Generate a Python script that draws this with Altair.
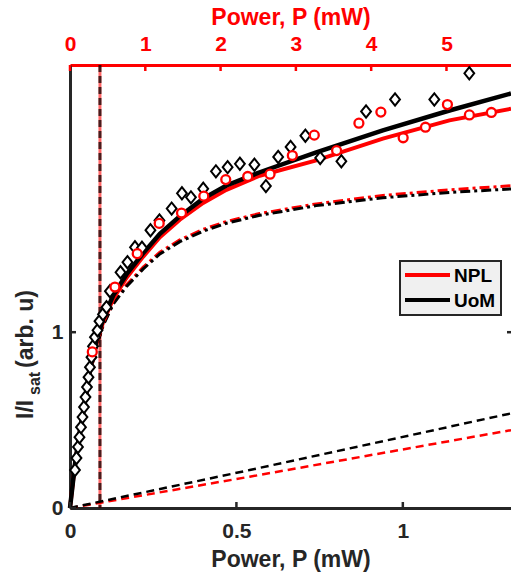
import altair as alt
import pandas as pd

# ---------------- data ----------------
# UoM measurements (black diamonds)
uom_p = [0.015, 0.0195, 0.024, 0.0285, 0.033, 0.0375, 0.042, 0.0465, 0.051, 0.0556,
         0.060, 0.0646, 0.069, 0.075, 0.0826, 0.0886, 0.099, 0.1096, 0.120, 0.1517,
         0.1727, 0.1952, 0.2162, 0.2417, 0.2688, 0.3054, 0.3363, 0.3634, 0.4003, 0.4384,
         0.4736, 0.5105, 0.5541, 0.5886, 0.6255, 0.6628, 0.7072, 0.7517, 0.8153, 0.8895,
         0.9766, 1.0946, 1.1997]
uom_v = [0.216, 0.284, 0.347, 0.403, 0.460, 0.517, 0.574, 0.631, 0.688, 0.744,
         0.801, 0.858, 0.920, 0.972, 1.011, 1.063, 1.102, 1.142, 1.233, 1.341,
         1.398, 1.483, 1.480, 1.580, 1.636, 1.703, 1.790, 1.767, 1.816, 1.915,
         1.939, 1.958, 1.953, 1.831, 1.997, 2.054, 2.118, 1.991, 1.972, 2.256,
         2.324, 2.324, 2.473]

# NPL measurements (red circles)
npl_p = [0.067, 0.135, 0.202, 0.268, 0.335, 0.402, 0.468, 0.534, 0.601, 0.668,
         0.734, 0.801, 0.868, 0.934, 1.001, 1.068, 1.134, 1.200, 1.266]
npl_v = [0.888, 1.257, 1.447, 1.619, 1.678, 1.774, 1.868, 1.886, 1.899, 2.005,
         2.121, 2.033, 2.189, 2.252, 2.106, 2.166, 2.295, 2.236, 2.250]

# fitted curves
fit_p = [0, 0.015, 0.03, 0.045, 0.06, 0.08, 0.10, 0.13, 0.17, 0.22, 0.27, 0.33,
         0.40, 0.47, 0.57, 0.74, 0.94, 1.14, 1.325]
uom_fit = [0, 0.25, 0.44, 0.61, 0.79, 0.955, 1.08, 1.21, 1.33, 1.45, 1.56, 1.66,
           1.76, 1.835, 1.91, 2.023, 2.148, 2.261, 2.358]
npl_fit = [0, 0.25, 0.44, 0.60, 0.78, 0.94, 1.06, 1.19, 1.31, 1.43, 1.54, 1.64,
           1.735, 1.81, 1.89, 1.977, 2.101, 2.205, 2.271]
uom_sat = [0, 0.24, 0.43, 0.59, 0.765, 0.92, 1.04, 1.16, 1.26, 1.36, 1.445, 1.515,
           1.575, 1.62, 1.665, 1.72, 1.765, 1.795, 1.815]
npl_sat = [0, 0.24, 0.43, 0.59, 0.765, 0.925, 1.045, 1.165, 1.27, 1.37, 1.455, 1.525,
           1.585, 1.63, 1.675, 1.73, 1.778, 1.81, 1.833]

# linear components
lin_p = [0, 0.54, 1.325]
uom_lin = [0, 0.216, 0.538]
npl_lin = [0, 0.178, 0.443]

# vertical marker
marker_p = [0.09]

# axis ticks
x_ticks = [0, 0.5, 1]
y_ticks = [0, 1]
top_ticks = [0, 1, 2, 3, 4, 5]

series_names = ["NPL", "UoM"]
series_colors = ["#ff0000", "#000000"]

# ---------------- styling ----------------
FONT = "Liberation Sans"
AX = "#262626"
RED = series_colors[0]
BLK = series_colors[1]

xs = alt.Scale(domain=[0, 1.325], nice=False, zero=False)
ys = alt.Scale(domain=[0, 2.52], nice=False, zero=False)
ts = alt.Scale(domain=[0, 5.857], nice=False, zero=False)

x_axis = alt.Axis(orient="bottom", values=x_ticks, format="~g", title="Power, P (mW)",
                  titleFont=FONT, titleFontSize=23, titleFontWeight="bold", titleColor=AX,
                  titlePadding=7, labelFont=FONT, labelFontSize=21, labelFontWeight="bold",
                  labelColor=AX, labelPadding=12, labelFlush=False, ticks=False, grid=False,
                  domainColor=AX, domainWidth=3)
y_axis = alt.Axis(values=y_ticks, format="~g", title=None, labelFont=FONT, labelFontSize=21,
                  labelFontWeight="bold", labelColor=AX, labelPadding=7, labelFlush=False,
                  ticks=False, grid=False, domainColor=AX, domainWidth=3)
top_axis = alt.Axis(orient="top", values=top_ticks, format="~g", title="Power, P (mW)",
                    titleFont=FONT, titleFontSize=23, titleFontWeight="bold", titleColor=RED,
                    titlePadding=4, labelFont=FONT, labelFontSize=21, labelFontWeight="bold",
                    labelColor=RED, labelPadding=11, labelFlush=False, ticks=False, grid=False,
                    domainColor=RED, domainWidth=3)

X = alt.X("P:Q", scale=xs, axis=x_axis)
Y = alt.Y("v:Q", scale=ys, axis=y_axis)

df_uom = pd.DataFrame({"P": uom_p, "v": uom_v})
df_npl = pd.DataFrame({"P": npl_p, "v": npl_v})
df_fit_npl = pd.DataFrame({"P": fit_p, "v": npl_fit})
df_fit_uom = pd.DataFrame({"P": fit_p, "v": uom_fit})
df_sat_npl = pd.DataFrame({"P": fit_p, "v": npl_sat})
df_sat_uom = pd.DataFrame({"P": fit_p, "v": uom_sat})
df_lin_npl = pd.DataFrame({"P": lin_p, "v": npl_lin})
df_lin_uom = pd.DataFrame({"P": lin_p, "v": uom_lin})
df_marker = pd.DataFrame({"P": marker_p})

lin_red = alt.Chart(df_lin_npl).mark_line(color=RED, strokeWidth=2.5, strokeDash=[8, 5]).encode(x=X, y=Y)
lin_blk = alt.Chart(df_lin_uom).mark_line(color=BLK, strokeWidth=2.5, strokeDash=[8, 5]).encode(x=X, y=Y)
sat_red = alt.Chart(df_sat_npl).mark_line(color=RED, strokeWidth=3, strokeDash=[10, 4, 3, 4]).encode(x=X, y=Y)
sat_blk = alt.Chart(df_sat_uom).mark_line(color=BLK, strokeWidth=3, strokeDash=[10, 4, 3, 4]).encode(x=X, y=Y)
fit_red = alt.Chart(df_fit_npl).mark_line(color=RED, strokeWidth=4).encode(x=X, y=Y)
fit_blk = alt.Chart(df_fit_uom).mark_line(color=BLK, strokeWidth=4.5).encode(x=X, y=Y)

diamond = "M-0.8,0L0,-1L0.8,0L0,1Z"
pts_uom = alt.Chart(df_uom).mark_point(shape=diamond, size=150, filled=True, fill="white",
                                       stroke=BLK, strokeWidth=2, opacity=1).encode(x=X, y=Y)
pts_npl = alt.Chart(df_npl).mark_point(shape="circle", size=80, filled=True, fill="white",
                                       stroke=RED, strokeWidth=2.3, opacity=1).encode(x=X, y=Y)

vline_red = alt.Chart(df_marker).mark_rule(color=RED, strokeWidth=3, opacity=0.6).encode(x=X)
vline_blk = alt.Chart(df_marker).mark_rule(color=BLK, strokeWidth=3, opacity=0.72,
                                           strokeDash=[7, 4]).encode(x=X)

bt = alt.Chart(pd.DataFrame({"P": x_ticks})).mark_rule(color=AX, strokeWidth=2.5).encode(
    x=X, y=alt.value(443), y2=alt.value(437))
lt = alt.Chart(pd.DataFrame({"v": y_ticks})).mark_rule(color=AX, strokeWidth=2.5).encode(
    y=Y, x=alt.value(0), x2=alt.value(6))
rt = alt.Chart(pd.DataFrame({"v": [1]})).mark_rule(color=AX, strokeWidth=2.5).encode(
    y=Y, x=alt.value(437), x2=alt.value(441))

# y axis title with subscript
t1 = alt.Chart(pd.DataFrame({"t": ["I/I"]})).mark_text(
    font=FONT, fontSize=23, fontWeight="bold", color=AX, angle=270, align="left",
    baseline="alphabetic").encode(text="t:N", x=alt.value(-37), y=alt.value(354))
t2 = alt.Chart(pd.DataFrame({"t": ["sat"]})).mark_text(
    font=FONT, fontSize=16, fontWeight="bold", color=AX, angle=270, align="left",
    baseline="alphabetic").encode(text="t:N", x=alt.value(-30), y=alt.value(330))
t3 = alt.Chart(pd.DataFrame({"t": ["(arb. u)"]})).mark_text(
    font=FONT, fontSize=23, fontWeight="bold", color=AX, angle=270, align="left",
    baseline="alphabetic").encode(text="t:N", x=alt.value(-37), y=alt.value(303))

# legend box
lg_box = alt.Chart(pd.DataFrame({"k": [0]})).mark_rect(
    fill="#f0f0f0", stroke=AX, strokeWidth=2).encode(
    x=alt.value(330), x2=alt.value(431), y=alt.value(196), y2=alt.value(250))
lg_l1 = alt.Chart(pd.DataFrame({"k": [0]})).mark_rule(color=RED, strokeWidth=4).encode(
    x=alt.value(335), x2=alt.value(380), y=alt.value(210))
lg_l2 = alt.Chart(pd.DataFrame({"k": [0]})).mark_rule(color=BLK, strokeWidth=4).encode(
    x=alt.value(335), x2=alt.value(380), y=alt.value(235))
lg_t1 = alt.Chart(pd.DataFrame({"t": [series_names[0]]})).mark_text(
    font=FONT, fontSize=19, fontWeight="bold", color=BLK, align="left", baseline="middle").encode(
    text="t:N", x=alt.value(384), y=alt.value(211))
lg_t2 = alt.Chart(pd.DataFrame({"t": [series_names[1]]})).mark_text(
    font=FONT, fontSize=19, fontWeight="bold", color=BLK, align="left", baseline="middle").encode(
    text="t:N", x=alt.value(384), y=alt.value(236))

bottom = alt.layer(vline_red, vline_blk, lin_red, lin_blk, sat_red, sat_blk,
                   fit_red, fit_blk, pts_uom, pts_npl, bt, lt, rt, t1, t2, t3,
                   lg_box, lg_l1, lg_l2, lg_t1, lg_t2)

top = alt.Chart(pd.DataFrame({"T": top_ticks})).mark_rule(color=RED, strokeWidth=2.5).encode(
    x=alt.X("T:Q", scale=ts, axis=top_axis), y=alt.value(0), y2=alt.value(6))

chart = alt.layer(bottom, top).resolve_scale(x="independent").properties(
    width=441, height=443,
    padding={"left": 70, "top": 65, "right": 0, "bottom": 72},
    autosize=alt.AutoSizeParams(type="none"),
    background="white",
).configure_view(stroke=None)

chart.save("out.html", embed_options={"renderer": "svg", "actions": False})
